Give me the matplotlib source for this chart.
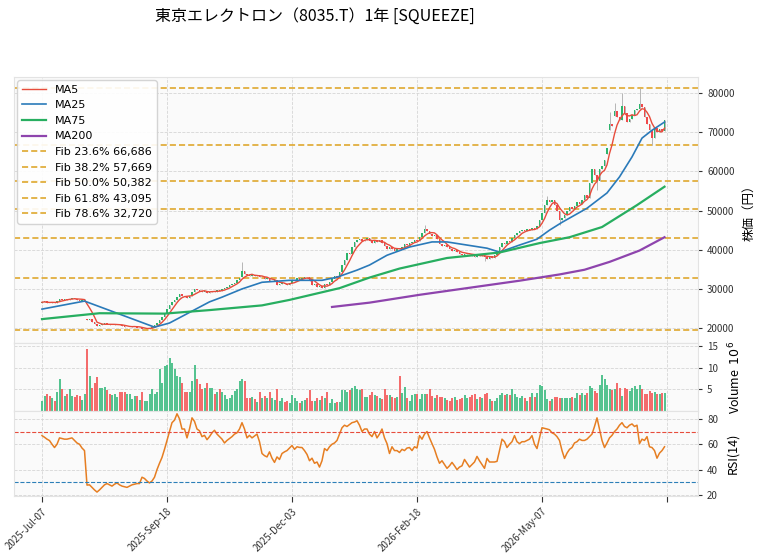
import numpy as np
import pandas as pd
import matplotlib
matplotlib.use('Agg')
import matplotlib.pyplot as plt

plt.rcParams['font.family'] = ['Noto Sans CJK JP', 'DejaVu Sans']

title = '東京エレクトロン（8035.T）1年 [SQUEEZE]'
tick_pos = [0, 50, 100, 150, 200, 250]
tick_labels = ['2025-Jul-07', '2025-Sep-18', '2025-Dec-03', '2026-Feb-18', '2026-May-07', '']

# daily closes (yen)
close = [
    26600, 26800, 26500, 26300, 26700, 26500, 26900, 27400, 27100, 27500,
    27200, 27500, 27800, 27500, 27300, 27000, 27200, 27400, 22000, 22300,
    21600, 21000, 20600, 20900, 21100, 21300, 21000, 20700, 20800, 21000,
    21100, 20800, 20500, 20200, 20300, 20400, 20500, 20600, 20000, 20100,
    19700, 19800, 19900, 20100, 20400, 20800, 21300, 22000, 22800, 23800,
    24800, 25800, 26600, 27300, 28000, 28600, 28300, 28000, 27700, 28300,
    29100, 30000, 29700, 29400, 29100, 29500, 29000, 29300, 29600, 29200,
    29700, 29400, 29900, 30300, 30600, 30900, 31200, 31600, 32200, 32900,
    34500, 33800, 33500, 33300, 33600, 33300, 33500, 33000, 33100, 32600,
    32800, 32000, 32100, 32300, 31000, 31200, 31600, 31300, 31000, 31500,
    31900, 32300, 32700, 32400, 32800, 33100, 33000, 32000, 31000, 31200,
    30400, 30700, 30300, 31200, 30900, 31800, 32600, 33400, 33100, 34200,
    36000, 37500, 39300, 38800, 40800, 42000, 42500, 42800, 42200, 42500,
    42900, 42300, 41800, 42600, 42000, 42400, 41600, 40900, 40300, 40700,
    40200, 39800, 40500, 40100, 40800, 41500, 41200, 41700, 42100, 42600,
    42300, 43200, 44200, 45300, 44900, 44000, 43500, 43800, 42800, 41500,
    40900, 41200, 40600, 40100, 39700, 40000, 39500, 39000, 38600, 39000,
    39300, 38900, 38500, 38200, 38700, 38300, 38800, 38100, 37700, 38300,
    38000, 38600, 39500, 40800, 41800, 41500, 42300, 42000, 43000, 43800,
    44300, 44700, 45100, 44700, 45300, 45000, 45600, 45200, 46000, 47500,
    49500, 51500, 52800, 52300, 52600, 51500, 49800, 47500, 48200, 49000,
    50000, 50800, 50300, 51200, 52200, 51800, 52800, 54000, 53200, 57000,
    60500, 59000, 57500, 60500, 61500, 62800, 66000, 72000, 71500, 75500,
    74000, 73000, 76800, 75000, 72500, 73500, 74500, 75800, 76000, 77200,
    76500, 73800, 72000, 70500, 68500, 71000, 70000, 70800, 70200, 73200,
]
first_open = 26400
gap_open = {18: 22400, 80: 33000, 226: 64500, 227: 70500, 229: 74200}
high_pts = {80: 36900, 153: 46300, 202: 53600, 227: 75200, 229: 77400, 232: 80000, 239: 81260}
low_pts = {40: 19504, 177: 37200, 207: 46300, 222: 55200, 244: 66700}

# volume in millions
volume = [
    2.3, 3.4, 3.9, 3.4, 3.0, 2.3, 4.3, 7.5, 5.0, 3.4,
    3.9, 5.0, 3.5, 3.2, 3.6, 3.4, 2.5, 3.9, 14.3, 8.0,
    5.2, 6.4, 7.9, 5.4, 5.4, 5.6, 4.8, 3.9, 3.6, 4.0,
    3.2, 4.3, 4.4, 4.4, 4.0, 4.0, 2.7, 3.4, 3.5, 2.6,
    4.5, 2.3, 2.3, 3.9, 5.0, 3.9, 4.3, 9.8, 6.5, 10.3,
    10.7, 12.2, 11.1, 9.6, 8.0, 7.9, 6.5, 4.3, 4.4, 4.3,
    6.9, 10.7, 7.5, 6.2, 5.0, 5.2, 6.4, 5.2, 5.2, 3.9,
    4.4, 5.0, 4.3, 3.6, 2.7, 2.9, 3.6, 4.6, 5.0, 6.9,
    7.3, 6.9, 2.9, 2.9, 3.2, 2.8, 2.0, 4.3, 2.9, 3.4,
    2.9, 4.3, 2.9, 2.6, 5.0, 2.3, 2.9, 2.0, 2.3, 1.9,
    3.6, 2.9, 2.3, 1.9, 2.4, 2.5, 2.9, 4.9, 2.3, 2.3,
    2.9, 2.5, 3.4, 2.9, 4.3, 1.9, 2.7, 1.9, 2.0, 2.0,
    4.9, 4.8, 4.3, 4.8, 5.4, 5.7, 5.0, 4.8, 5.0, 3.2,
    3.2, 3.6, 4.4, 3.6, 3.4, 2.9, 2.7, 5.0, 3.6, 3.6,
    3.3, 2.9, 3.3, 8.0, 4.2, 5.6, 2.9, 2.3, 3.6, 3.9,
    3.9, 2.7, 3.9, 3.9, 3.9, 5.0, 3.4, 2.9, 3.6, 3.3,
    3.3, 2.9, 2.6, 2.3, 2.9, 3.3, 2.6, 2.7, 3.1, 3.6,
    2.9, 3.3, 3.6, 3.9, 2.7, 3.3, 3.1, 3.9, 4.2, 2.7,
    2.3, 2.3, 2.9, 3.6, 4.2, 3.6, 3.9, 3.6, 5.0, 3.9,
    3.3, 2.9, 3.5, 2.9, 2.3, 3.3, 4.1, 3.3, 4.2, 6.1,
    5.8, 4.9, 2.7, 2.3, 2.7, 3.3, 3.3, 3.1, 3.1, 3.1,
    3.1, 3.1, 3.3, 2.9, 4.1, 3.6, 4.1, 3.6, 4.2, 5.8,
    5.2, 4.7, 4.1, 6.1, 8.2, 7.5, 6.1, 5.0, 4.9, 5.0,
    6.4, 5.2, 3.4, 5.2, 5.0, 4.7, 5.2, 5.8, 5.0, 5.9,
    5.0, 3.9, 3.9, 4.7, 4.2, 4.4, 3.9, 3.9, 4.2, 4.1,
]

rsi = [
    66.8, 65.5, 64, 62.9, 60, 57.4, 60, 65, 64.5, 64,
    64, 64.5, 65, 63, 61, 60, 57, 55, 27.8, 28,
    26, 24, 22.3, 24, 26, 28, 29, 28, 27, 28.5,
    29.5, 28, 27, 26.5, 26, 27, 28, 28.5, 29, 29,
    34, 33, 31, 29.5, 31, 34, 40, 45, 49.6, 56,
    63, 70, 77, 79, 84, 80, 72, 72, 65, 72,
    80.8, 78, 72, 70.6, 66, 67, 63.6, 66, 69, 71,
    68, 66, 64, 61, 63, 64.5, 66, 68, 69, 72,
    77, 72, 65, 67, 65, 66.5, 68, 62, 52.7, 51,
    50, 54, 49, 45.7, 50, 48, 52.7, 54, 55, 57,
    59, 56, 58, 57.5, 57.4, 55, 52, 47, 49, 45,
    46, 42, 47, 56.6, 55, 58, 60, 61, 63, 68,
    73, 75, 74, 75.5, 77, 77.5, 78.5, 75, 70, 72,
    72, 68, 66, 70, 65, 68, 72, 65, 60.5, 52.7,
    58, 55, 55, 53.5, 56, 55, 57, 57.4, 55, 58,
    57, 66.8, 64, 68, 70, 65, 60.5, 56, 50, 45,
    47, 44, 41, 43, 45.7, 43, 40, 42, 43, 48,
    45, 42, 44, 46, 50.4, 47, 44, 41, 48.8, 46,
    46, 46, 46.5, 55, 64, 62, 57.4, 60, 62, 66.8,
    62, 60.5, 62, 62, 63, 64, 66.8, 60, 56.6, 65,
    73, 72.5, 72, 71.4, 69, 68, 66, 63, 55, 48.8,
    53, 56, 57.4, 61, 62, 64, 63, 63, 64, 66,
    68, 74, 80.8, 72, 63, 57.4, 61, 65, 67, 70,
    72, 75, 77, 74, 73, 75, 76, 74, 75, 60.5,
    64, 63, 66, 58, 57.4, 55, 49, 53, 55, 58,
]

ma25_idx = [0, 17, 45, 51, 59, 67, 72, 80, 88, 99, 112, 118, 126, 131, 138, 147, 156, 162,
            170, 178, 183, 191, 198, 203, 208, 218, 226, 231, 236, 240, 244, 249]
ma25_val = [24850, 26900, 20250, 21300, 24000, 26700, 27900, 30000, 31700, 32200, 32200, 33000,
            34800, 36100, 38600, 40700, 42000, 42000, 41200, 40400, 39400, 41200, 42700, 45000,
            47000, 50600, 54500, 58600, 63700, 68500, 70500, 72600]
ma75_idx = [0, 23, 49, 67, 88, 99, 119, 131, 143, 162, 183, 199, 211, 224, 238, 249]
ma75_val = [22300, 23800, 23700, 24600, 25800, 27200, 30200, 32900, 35200, 37900, 39300, 41700,
            43200, 45800, 51400, 56100]
ma200_idx = [116, 131, 151, 171, 191, 207, 217, 227, 239, 249]
ma200_val = [25400, 26500, 28500, 30300, 32100, 33700, 34900, 36900, 39800, 43200]

fib_ratios = [0.0, 0.236, 0.382, 0.5, 0.618, 0.786, 1.0]

# ---- build OHLC ----
c = np.array(close, dtype=float)
o = np.r_[first_open, c[:-1]]
for k, v in gap_open.items():
    o[k] = v
hi = np.maximum(o, c)
lo = np.minimum(o, c)
for k, v in high_pts.items():
    hi[k] = v
for k, v in low_pts.items():
    lo[k] = v
x = np.arange(len(c))
up = c >= o

ma5 = pd.Series(c).rolling(5, min_periods=1).mean()

up_col, dn_col = '#2db46b', '#f0494a'
vup_col, vdn_col = '#4cc08a', '#f46464'
fib_col = '#dca11d'

L, W = 14 / 758, (698 - 14) / 758
fig = plt.figure(figsize=(7.58, 5.58), dpi=100)
ax1 = fig.add_axes([L, 1 - 343 / 558, W, 266 / 558])
ax2 = fig.add_axes([L, 1 - 411 / 558, W, 68 / 558], sharex=ax1)
ax3 = fig.add_axes([L, 1 - 496 / 558, W, 85 / 558], sharex=ax1)

for ax in (ax1, ax2, ax3):
    ax.set_facecolor('#fafafa')
    ax.grid(True, color='#d6d6d6', linestyle='--', linewidth=0.6)
    ax.set_axisbelow(True)
    ax.yaxis.tick_right()
    ax.yaxis.set_label_position('right')
    for s in ax.spines.values():
        s.set_color('#e3e3e3')
    ax.tick_params(axis='y', labelsize=7, colors='#333333', length=3)

# candles
cols = np.where(up, up_col, dn_col)
ax1.vlines(x, lo, hi, colors='#b5b5b5', linewidth=0.7, zorder=2)
ax1.bar(x, np.maximum(np.abs(c - o), 90), bottom=np.minimum(o, c), width=0.7, color=cols, zorder=3)

ax1.plot(x, ma5, color='#e74c3c', lw=1.0, label='MA5', zorder=4)
ax1.plot(ma25_idx, ma25_val, color='#2a7ab9', lw=1.2, label='MA25', zorder=4)
ax1.plot(ma75_idx, ma75_val, color='#27ae60', lw=1.6, label='MA75', zorder=4)
ax1.plot(ma200_idx, ma200_val, color='#8e44ad', lw=1.6, label='MA200', zorder=4)

fib_hi, fib_lo = hi.max(), lo.min()
for r in fib_ratios:
    lvl = fib_hi - r * (fib_hi - fib_lo)
    lab = '_nolegend_' if r in (0.0, 1.0) else f'Fib {r * 100:.1f}% {lvl:,.0f}'
    ax1.axhline(lvl, color=fib_col, ls='--', lw=1.1, dashes=(4, 2), label=lab, zorder=1.5)

ax1.set_ylim(16200, 84100)
ax1.set_yticks([20000, 30000, 40000, 50000, 60000, 70000, 80000])
ax1.set_ylabel('株価（円）', fontsize=9, labelpad=6)
leg = ax1.legend(loc='upper left', prop={'family': 'DejaVu Sans', 'size': 8}, frameon=True,
                 borderaxespad=0.3, handlelength=2.2, labelspacing=0.5)
leg.get_frame().set_edgecolor('#d0d0d0')
leg.get_frame().set_facecolor('white')
leg.get_frame().set_alpha(0.9)

# volume
ax2.bar(x, volume, width=0.8, color=np.where(up, vup_col, vdn_col), alpha=0.95)
ax2.set_ylim(0, 15.7)
ax2.set_yticks([5, 10, 15])
ax2.set_ylabel('Volume  $10^{6}$', fontsize=9, labelpad=6)

# RSI
ax3.plot(x, rsi, color='#e67e22', lw=1.1)
ax3.axhline(70, color='#e74c3c', ls='--', lw=0.8)
ax3.axhline(30, color='#2c7fb8', ls='--', lw=0.8)
ax3.set_ylim(19.2, 86.2)
ax3.set_yticks([20, 40, 60, 80])
ax3.set_ylabel('RSI(14)', fontsize=9, labelpad=6)

ax1.set_xlim(-11.2, 262.4)
ax3.set_xticks(tick_pos)
ax3.set_xticklabels(tick_labels, rotation=45, ha='right', rotation_mode='anchor', fontsize=7)
ax1.tick_params(axis='x', length=0, labelbottom=False)
ax2.tick_params(axis='x', length=0, labelbottom=False)
ax3.tick_params(axis='x', length=4, colors='#333333')

fig.text(315 / 758, 1 - 16 / 558, title, ha='center', va='center', fontsize=11.5)

fig.savefig('out.png', dpi=100)
